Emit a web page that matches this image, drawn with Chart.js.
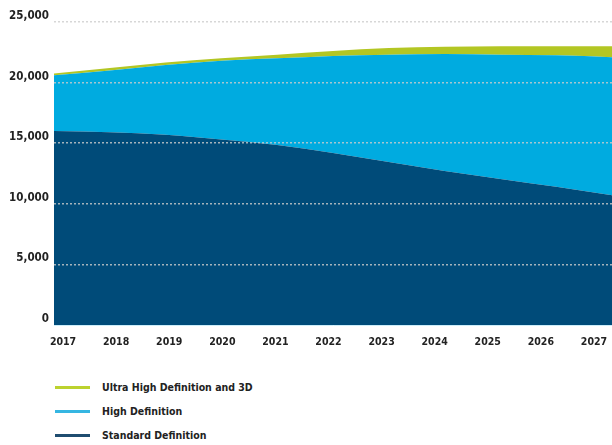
<!DOCTYPE html>
<html lang="en">
<head>
  <meta charset="UTF-8" />
  <title>TV households by definition</title>
  <style>
    html, body {
      margin: 0;
      padding: 0;
      background: #ffffff;
    }
    body {
      width: 612px;
      height: 445px;
      position: relative;
      overflow: hidden;
      font-family: "DejaVu Sans Condensed", "DejaVu Sans", sans-serif;
    }
    .chart-box {
      position: absolute;
      left: 0;
      top: 0;
      width: 612px;
      height: 360px;
    }
    /* Legend is a plain vertical list under the chart */
    #legend {
      position: absolute;
      left: 55px;
      top: 375px;
      margin: 0;
      padding: 0;
      list-style: none;
    }
    #legend li {
      height: 24px;
      display: flex;
      align-items: center;
      font-size: 10.5px;
      font-weight: bold;
      color: #222;
    }
    #legend .swatch {
      display: inline-block;
      width: 35px;
      height: 3px;
      margin-right: 12px;
    }
  </style>
</head>
<body>
  <div class="chart-box">
    <canvas id="chart"></canvas>
  </div>
  <ul id="legend"></ul>

  <script src="https://cdn.jsdelivr.net/npm/chart.js"></script>
  <script>
    const years = ['2017', '2018', '2019', '2020', '2021', '2022', '2023', '2024', '2025', '2026', '2027'];

    // Values (stacked bottom to top).
    const standardDef = [16000, 15900, 15700, 15300, 14850, 14200, 13450, 12700, 12050, 11400, 10700];
    const highDef     = [4600, 5100, 5750, 6500, 7150, 8000, 8850, 9650, 10250, 10850, 11400];
    const ultraHighDef = [150, 200, 200, 200, 300, 400, 550, 600, 700, 750, 900];

    const yTicks = [0, 5000, 10000, 15000, 20000, 25000];

    const series = [
      { label: 'Standard Definition', data: standardDef, color: '#004b79', key: '#1f4d70' },
      { label: 'High Definition', data: highDef, color: '#00abe0', key: '#35b6e2' },
      { label: 'Ultra High Definition and 3D', data: ultraHighDef, color: '#b3c623', key: '#bcd22e' }
    ];

    const labelFamily = '"DejaVu Sans Condensed", "DejaVu Sans", sans-serif';

    const chart = new Chart(document.getElementById('chart'), {
      type: 'line',
      data: {
        labels: years,
        datasets: series.map((s, i) => ({
          label: s.label,
          data: s.data,
          backgroundColor: s.color,
          borderColor: s.color,
          borderWidth: 0,
          pointRadius: 0,
          cubicInterpolationMode: 'monotone',
          fill: i === 0 ? 'origin' : '-1'
        }))
      },
      options: {
        responsive: true,
        maintainAspectRatio: false,
        animation: false,
        layout: { padding: { top: 22, right: 0, bottom: 0, left: 0 } },
        plugins: {
          legend: { display: false },
          tooltip: { enabled: false }
        },
        scales: {
          // data axis: first and last year sit on the plot edges
          x: {
            type: 'category',
            display: false,
            offset: false
          },
          // label axis: the year labels in the picture sit a little inside the plot
          x2: {
            type: 'linear',
            position: 'bottom',
            min: 2016.83,
            max: 2027.34,
            afterFit: (scale) => {
              scale.height = 35;
              scale.paddingLeft = 0;
              scale.paddingRight = 0;
            },
            grid: { display: false, drawTicks: false },
            border: { display: true, color: '#cdeefa', width: 1 },
            ticks: {
              stepSize: 1,
              includeBounds: false,
              autoSkip: false,
              maxRotation: 0,
              padding: 11,
              color: '#222',
              font: { family: labelFamily, size: 10.5, weight: 'bold' },
              callback: (v) => Number.isInteger(v) ? String(v) : ''
            }
          },
          y: {
            stacked: true,
            min: 0,
            max: 25000,
            afterFit: (scale) => { scale.width = 54; },
            afterBuildTicks: (scale) => {
              scale.ticks = yTicks.map(v => ({ value: v }));
            },
            border: { display: false, dash: [2, 2] },
            grid: {
              z: 1,
              drawTicks: false,
              lineWidth: 1.5,
              color: (ctx) => ctx.tick && ctx.tick.value === 0 ? 'rgba(0,0,0,0)' : 'rgba(205,205,205,0.8)'
            },
            ticks: {
              padding: 5,
              labelOffset: -6,
              color: '#222',
              font: { family: labelFamily, size: 11.5, weight: 'bold' },
              callback: (v) => v.toLocaleString('en-US')
            }
          }
        }
      }
    });

    // Legend list, top item is the top layer of the stack.
    const legend = document.getElementById('legend');
    series.slice().reverse().forEach(s => {
      const li = document.createElement('li');
      const sw = document.createElement('span');
      sw.className = 'swatch';
      sw.style.background = s.key;
      li.appendChild(sw);
      li.appendChild(document.createTextNode(s.label));
      legend.appendChild(li);
    });
  </script>
</body>
</html>
